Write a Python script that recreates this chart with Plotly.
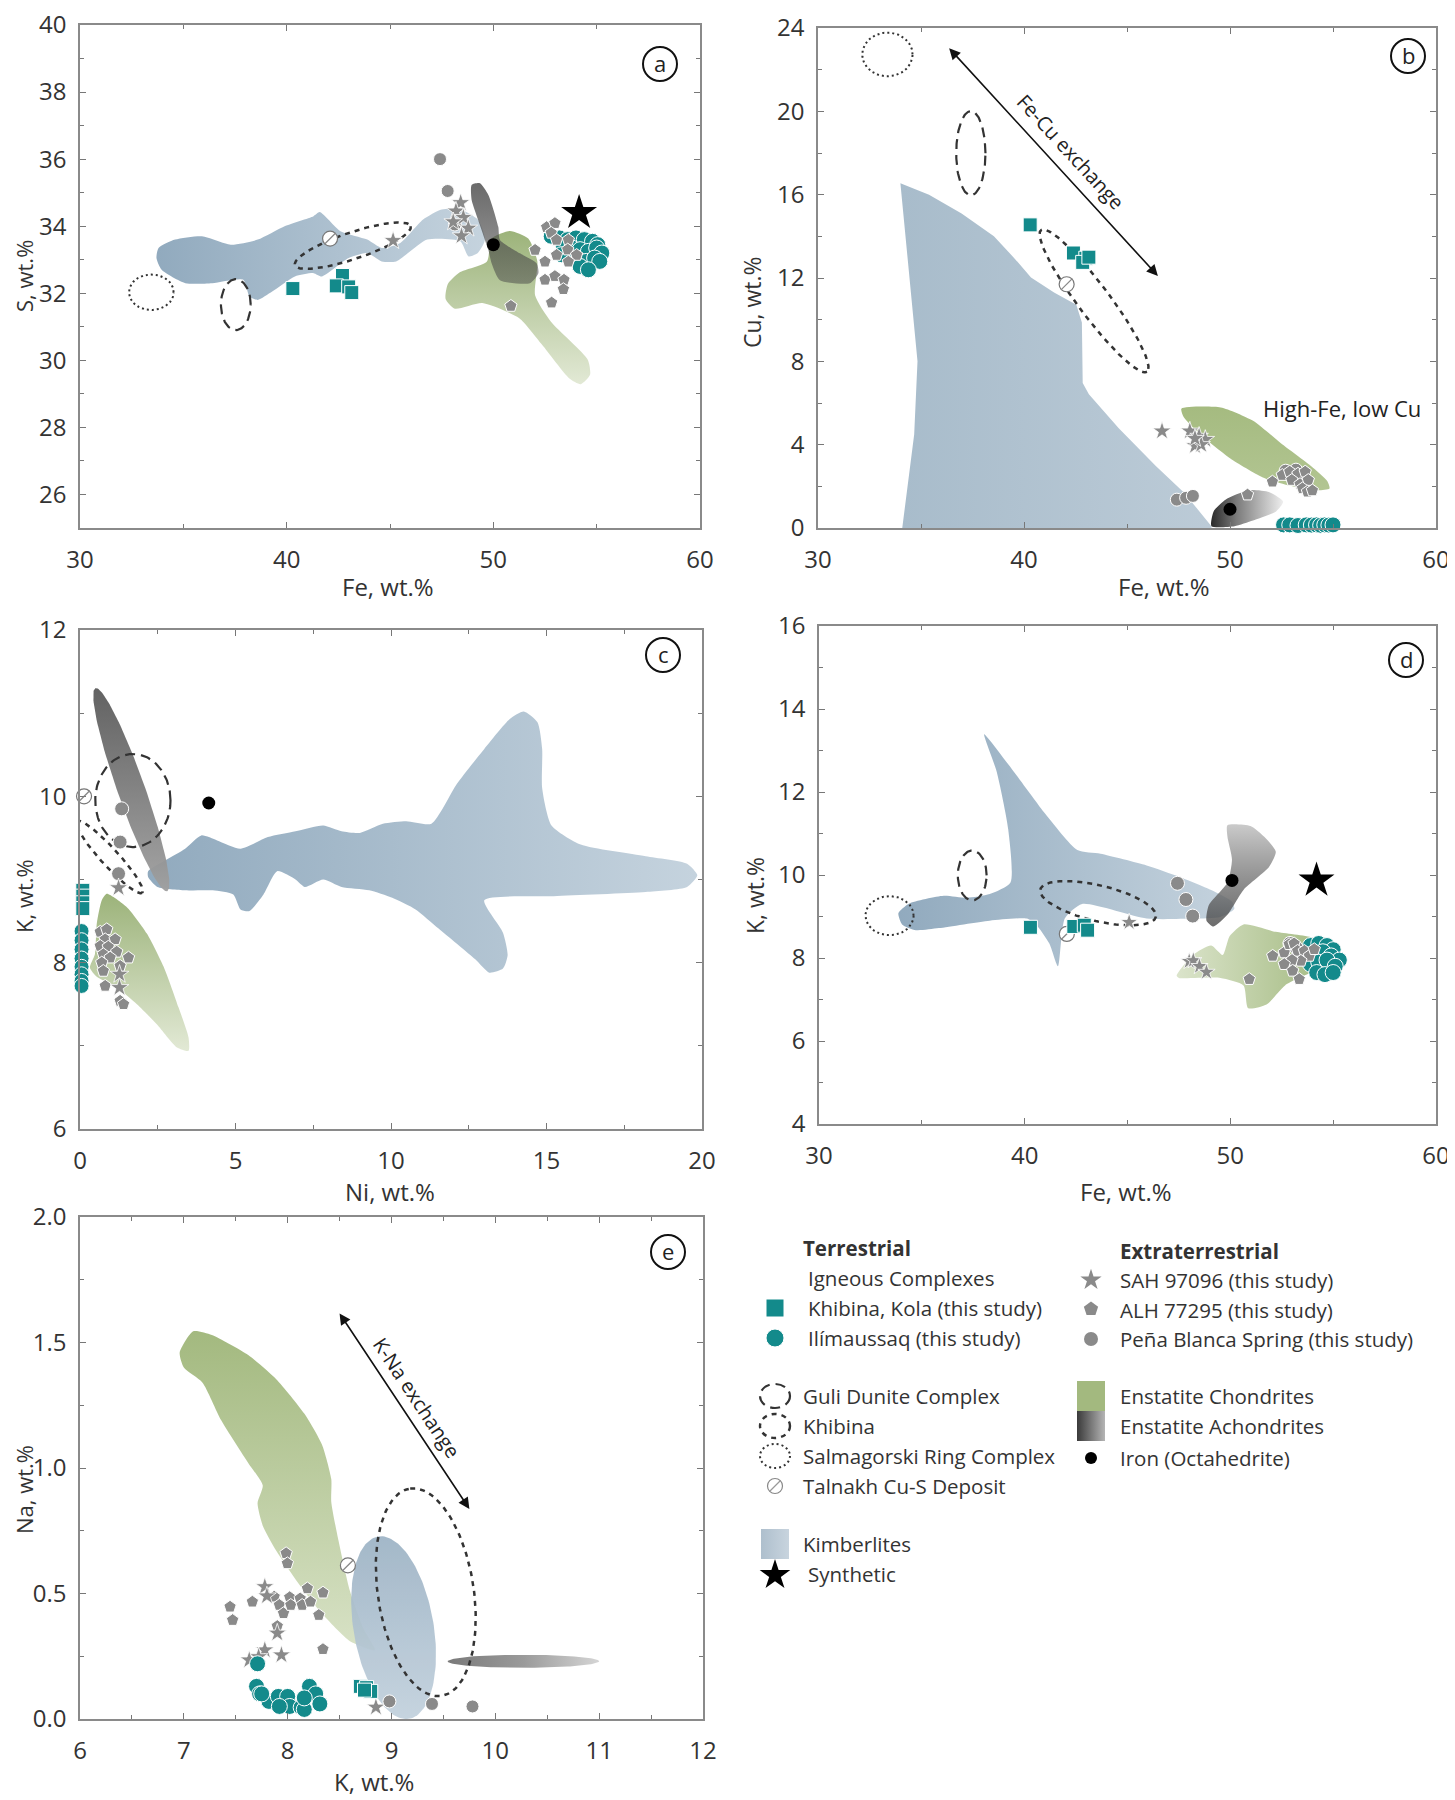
import numpy as np
import plotly.graph_objects as go

W, H = 1455, 1800
OFF = 8  # page body margin: figure starts 8 px right / down on the page
FONT = "Open Sans"
TEAL = "#138a8b"
GRAY = "#8a8a8a"

# ---------------- Panel a : S vs Fe ----------------
A_KIMB = [(33.8, 33.35), (34.6, 33.6), (35.9, 33.7), (37.3, 33.45), (38.6, 33.6), (39.9, 34.0), (41.3, 34.3),
          (41.6, 34.42), (42.6, 33.85), (43.9, 33.6), (44.6, 33.35), (45.5, 33.5), (46.6, 34.2), (47.5, 34.5),
          (48.4, 34.5), (49.25, 34.2), (49.6, 33.6), (49.25, 33.2), (48.8, 33.1), (48.4, 33.55), (46.8, 33.6),
          (45.3, 32.95), (44.6, 32.95), (43.9, 33.2), (43.0, 33.05), (41.7, 32.5), (41.3, 32.6), (40.4, 32.5),
          (39.3, 32.05), (38.6, 31.8), (38.2, 31.9), (37.9, 32.4), (36.4, 32.3), (35.1, 32.3), (33.95, 32.7),
          (33.7, 33.05)]
A_GREEN = [(47.8, 32.28), (47.69, 31.83), (48.14, 31.54), (49.47, 31.71), (51.24, 31.26), (52.35, 30.47),
           (53.68, 29.46), (54.23, 29.29), (54.68, 29.57), (54.57, 30.02), (52.79, 31.15), (52.02, 31.94),
           (52.13, 32.95), (51.69, 33.63), (50.8, 33.86), (49.91, 33.63), (49.69, 32.95), (48.36, 32.62)]
A_ACHON = [(48.95, 35.23), (49.35, 35.28), (49.76, 34.93), (50.24, 33.98), (50.32, 33.59), (51.29, 33.19),
           (52.1, 32.89), (52.18, 32.6), (51.77, 32.3), (50.32, 32.39), (49.92, 32.89), (49.76, 33.29),
           (49.27, 34.18), (48.95, 34.78)]
A_SALMA = dict(c=(33.45, 32.03), u=(1.08, 0.0), v=(0.0, 0.53))
A_GULI = dict(c=(37.54, 31.66), u=(0.72, 0.0), v=(0.0, 0.76))
A_KHIB_ELL = dict(c=(43.2, 33.42), u=(2.8, 0.58), v=(0.2, -0.38))
A_KHIB_FE = [40.3, 42.7, 42.4, 43.0, 43.15]
A_KHIB_S = [32.14, 32.53, 32.22, 32.19, 32.02]
A_ILI_FE = [52.8, 53.2, 53.6, 54.0, 54.4, 54.8, 55.05, 53.4, 53.8, 54.2, 54.6, 55.0, 55.25, 53.7, 54.1, 54.5,
            54.9, 55.15, 54.2, 54.6, 53.3]
A_ILI_S = [33.7, 33.65, 33.6, 33.65, 33.6, 33.55, 33.45, 33.4, 33.35, 33.3, 33.25, 33.35, 33.2, 33.05, 33.0,
           32.95, 33.05, 32.95, 32.8, 32.7, 33.15]
A_SAH_FE = [48.42, 48.19, 48.55, 48.06, 48.79, 48.46, 45.15]
A_SAH_S = [34.7, 34.45, 34.26, 34.13, 33.94, 33.71, 33.57]
A_ALH_FE = [52.58, 52.98, 52.8, 53.06, 53.63, 52.02, 52.5, 53.06, 53.6, 54.03, 53.63, 52.5, 52.98, 53.42, 53.39,
            52.82, 50.85]
A_ALH_S = [33.97, 34.09, 33.8, 33.59, 33.59, 33.29, 32.94, 33.14, 33.3, 33.14, 32.94, 32.4, 32.51, 32.4, 32.12,
           31.72, 31.62]
A_PBS_FE = [47.42, 47.79, 48.14]
A_PBS_S = [36.0, 35.05, 34.05]
A_IRON = (50.0, 33.45)
A_SYN = (54.15, 34.4)
A_TAL = (42.1, 33.63)

# ---------------- Panel b : Cu vs Fe ----------------
B_KIMB = [(34.0, 16.55), (35.39, 16.0), (36.97, 15.1), (38.54, 14.0), (39.55, 12.93), (40.34, 12.03),
          (41.46, 11.3), (42.54, 10.72), (42.81, 9.86), (42.85, 6.96), (43.15, 6.42), (44.6, 4.79), (46.4, 2.98),
          (47.75, 1.72), (49.1, 0.09), (49.1, 0.0), (34.09, 0.0), (34.67, 4.5), (34.83, 8.0), (34.38, 12.6)]
B_GREEN = [(47.64, 5.73), (49.55, 5.79), (51.12, 5.15), (52.47, 4.07), (53.93, 2.98), (54.72, 2.26), (54.83, 1.9),
           (54.27, 1.81), (52.7, 2.08), (51.57, 2.44), (50.0, 3.35), (48.43, 4.61), (47.75, 5.33)]
B_ACHON = [(49.1, 0.09), (49.21, 0.81), (49.78, 1.36), (50.9, 1.81), (51.91, 1.72), (52.58, 1.27), (52.25, 0.81),
           (51.12, 0.36), (50.22, 0.09)]
B_SALMA = dict(c=(33.37, 22.73), u=(1.22, 0.0), v=(0.0, 1.05))
B_GULI = dict(c=(37.42, 17.99), u=(0.71, 0.0), v=(0.0, 2.02))
B_KHIB_ELL = dict(c=(43.4, 10.9), u=(2.57, -3.4), v=(-0.62, -0.45))
B_KHIB_FE = [40.3, 42.4, 43.0, 42.85, 43.15]
B_KHIB_CU = [14.55, 13.2, 12.95, 12.75, 13.0]
B_ILI_FE = [52.6, 52.9, 53.3, 53.7, 53.95, 54.2, 54.4, 54.6, 54.8, 55.0]
B_ILI_CU = [0.15, 0.15, 0.12, 0.15, 0.14, 0.15, 0.13, 0.15, 0.14, 0.15]
B_SAH_FE = [46.7, 48.05, 48.5, 48.8, 48.3, 48.6, 48.3]
B_SAH_CU = [4.65, 4.65, 4.4, 4.25, 3.95, 4.0, 4.3]
B_ALH_FE = [52.06, 52.54, 52.9, 53.3, 53.65, 53.0, 53.4, 53.8, 53.52, 53.76, 54.0, 50.85]
B_ALH_CU = [2.22, 2.54, 2.7, 2.6, 2.7, 2.3, 2.1, 2.3, 1.9, 1.74, 1.8, 1.6]
B_PBS_FE = [47.42, 47.87, 48.2, 52.7, 53.2]
B_PBS_CU = [1.36, 1.45, 1.54, 2.75, 2.8]
B_IRON = (50.0, 0.9)
B_TAL = (42.07, 11.7)
B_ARROW = [(36.3, 23.1), (46.5, 12.1)]

# ---------------- Panel c : K vs Ni ----------------
C_KIMB = [(2.19, 9.1), (2.79, 9.24), (3.38, 9.37), (3.9, 9.53), (4.41, 9.47), (5.16, 9.37), (6.04, 9.51),
          (6.93, 9.58), (7.82, 9.65), (8.41, 9.58), (9.0, 9.56), (9.74, 9.67), (10.49, 9.7), (11.3, 9.67),
          (12.12, 10.15), (13.0, 10.57), (13.82, 10.93), (14.27, 11.02), (14.71, 10.89), (14.86, 10.57),
          (14.86, 10.1), (15.16, 9.65), (16.1, 9.42), (18.19, 9.28), (19.52, 9.19), (19.85, 9.05), (19.52, 8.91),
          (18.19, 8.85), (15.23, 8.8), (13.0, 8.75), (13.6, 8.36), (13.75, 8.09), (13.6, 7.93), (13.16, 7.88),
          (12.71, 8.04), (11.53, 8.41), (10.79, 8.64), (10.04, 8.78), (9.3, 8.87), (8.41, 8.91), (7.82, 9.0),
          (7.23, 8.91), (6.93, 9.0), (6.34, 9.1), (5.9, 8.82), (5.45, 8.62), (5.16, 8.64), (4.93, 8.82),
          (4.27, 8.87), (3.38, 8.87), (2.49, 8.91), (2.19, 9.03)]
C_GREEN = [(0.86, 8.83), (1.5, 8.67), (2.15, 8.35), (2.69, 7.95), (3.17, 7.46), (3.49, 7.1), (3.49, 6.94),
           (3.12, 6.98), (2.47, 7.26), (1.83, 7.5), (1.18, 7.7), (0.54, 7.83), (0.32, 7.94), (0.48, 8.1),
           (0.54, 8.47), (0.7, 8.75)]
C_ACHON = dict(c=(1.65, 10.08), u=(1.15, -1.22), v=(-0.42, -0.05))
C_GULI = dict(c=(1.7, 9.95), u=(1.21, 0.0), v=(0.0, 0.56))
C_KHIB_ELL = dict(c=(0.95, 9.27), u=(1.05, -0.43), v=(-0.21, -0.07))
C_KHIB_NI = [0.09, 0.09, 0.09, 0.09]
C_KHIB_K = [8.87, 8.8, 8.72, 8.65]
C_ILI_NI = [0.05, 0.05, 0.05, 0.05, 0.05, 0.05, 0.05, 0.05]
C_ILI_K = [8.38, 8.27, 8.16, 8.05, 7.95, 7.86, 7.78, 7.72]
C_ALH_NI = [0.65, 0.86, 0.81, 0.65, 1.13, 0.91, 1.18, 0.75, 0.97, 1.56, 0.7, 1.29, 0.75, 0.81, 1.29, 1.4]
C_ALH_K = [8.37, 8.4, 8.28, 8.2, 8.28, 8.19, 8.13, 8.1, 8.06, 8.06, 8.0, 7.96, 7.9, 7.72, 7.54, 7.5]
C_SAH_NI = [1.24, 1.27, 1.27]
C_SAH_K = [8.9, 7.86, 7.7]
C_PBS_NI = [1.34, 1.29, 1.24]
C_PBS_K = [9.85, 9.45, 9.07]
C_IRON = (4.14, 9.92)
C_TAL = (0.13, 10.0)

# ---------------- Panel d : K vs Fe ----------------
D_KIMB = [(38.03, 13.39), (39.2, 12.67), (40.99, 11.48), (42.56, 10.6), (43.69, 10.51), (45.93, 10.23),
          (47.5, 9.96), (49.07, 9.64), (50.08, 9.36), (50.19, 9.18), (49.52, 8.99), (48.17, 8.95), (45.93, 8.95),
          (42.79, 9.3), (41.95, 8.95), (41.62, 7.8), (41.2, 8.35), (40.55, 8.81), (40.1, 8.95), (38.3, 8.9),
          (35.83, 8.72), (34.71, 8.67), (34.04, 8.81), (33.86, 9.08), (34.37, 9.31), (36.06, 9.5), (37.18, 9.45),
          (38.3, 9.54), (39.31, 9.82), (39.2, 11.1), (38.64, 12.49)]
D_GREEN = [(47.39, 7.57), (48.17, 8.07), (49.07, 8.3), (49.63, 8.07), (49.97, 8.53), (50.64, 8.81), (52.21, 8.63),
           (54.0, 8.49), (54.9, 8.26), (54.9, 7.8), (54.0, 7.66), (52.66, 7.34), (51.76, 6.88), (50.87, 6.79),
           (50.64, 7.34), (49.52, 7.52), (47.5, 7.52)]
D_ACHON = [(49.86, 11.2), (50.98, 11.18), (51.65, 10.92), (52.21, 10.56), (51.88, 10.19), (50.64, 9.64),
           (49.86, 9.04), (49.18, 8.76), (48.84, 8.9), (48.95, 9.27), (49.86, 9.82), (50.08, 10.37), (49.86, 10.92)]
D_SALMA = dict(c=(33.43, 9.02), u=(1.17, 0.0), v=(0.0, 0.47))
D_GULI = dict(c=(37.45, 9.99), u=(0.7, 0.0), v=(0.0, 0.6))
D_KHIB_ELL = dict(c=(43.57, 9.32), u=(2.81, -0.33), v=(-0.2, -0.42))
D_KHIB_FE = [40.28, 42.39, 42.9, 43.06]
D_KHIB_K = [8.74, 8.76, 8.79, 8.67]
D_ILI_FE = [53.9, 54.3, 54.7, 55.0, 53.7, 54.1, 54.5, 54.9, 55.3, 53.9, 54.3, 54.7, 55.1, 54.2, 54.6, 55.0]
D_ILI_K = [8.3, 8.35, 8.3, 8.2, 8.05, 8.1, 8.15, 8.05, 7.95, 7.85, 7.9, 7.95, 7.8, 7.65, 7.6, 7.65]
D_ALH_FE = [52.06, 52.62, 52.86, 53.1, 53.27, 53.6, 53.84, 53.43, 53.0, 52.62, 53.03, 53.35, 50.92, 54.08]
D_ALH_K = [8.05, 8.13, 8.33, 8.35, 8.17, 8.17, 8.05, 7.93, 7.95, 7.85, 7.69, 7.49, 7.49, 8.21]
D_SAH_FE = [45.08, 48.0, 48.2, 48.5, 48.84]
D_SAH_K = [8.86, 7.92, 7.94, 7.8, 7.66]
D_PBS_FE = [47.43, 47.84, 48.17, 52.9, 53.2]
D_PBS_K = [9.8, 9.41, 9.01, 8.35, 8.25]
D_IRON = (50.08, 9.87)
D_SYN = (54.19, 9.87)
D_TAL = (42.05, 8.58)

# ---------------- Panel e : Na vs K ----------------
E_GREEN = [(6.96, 1.46), (7.09, 1.545), (7.27, 1.53), (7.62, 1.45), (7.89, 1.354), (8.16, 1.217), (8.33, 1.094),
           (8.42, 0.956), (8.42, 0.865), (8.49, 0.71), (8.6, 0.51), (8.73, 0.36), (8.84, 0.275), (8.6, 0.31),
           (8.33, 0.42), (8.07, 0.56), (7.89, 0.67), (7.76, 0.77), (7.71, 0.86), (7.76, 0.93), (7.62, 1.02),
           (7.36, 1.19), (7.18, 1.34), (7.0, 1.4)]
E_KIMB = dict(c=(9.02, 0.364), u=(-0.15, 0.363), v=(0.38, 0.027))
E_ACHON = dict(c=(10.27, 0.23), u=(0.73, 0.0), v=(0.0, 0.026))
E_KHIB_ELL = dict(c=(9.33, 0.505), u=(-0.15, 0.413), v=(0.457, 0.028))
E_KHIB_K = [8.7, 8.76, 8.8, 8.74]
E_KHIB_NA = [0.13, 0.125, 0.11, 0.115]
E_ILI_K = [7.71, 7.7, 7.73, 7.82, 7.91, 8.0, 8.02, 8.13, 8.16, 8.21, 8.27, 8.31, 8.16, 7.92, 7.75]
E_ILI_NA = [0.22, 0.13, 0.1, 0.07, 0.09, 0.09, 0.05, 0.046, 0.038, 0.13, 0.1, 0.06, 0.084, 0.05, 0.1]
E_ALH_K = [7.985, 7.997, 7.445, 7.47, 7.66, 7.87, 7.92, 7.96, 8.02, 8.03, 8.12, 8.14, 8.19, 8.22, 8.34, 8.30,
           7.90, 8.34]
E_ALH_NA = [0.66, 0.62, 0.447, 0.394, 0.467, 0.487, 0.454, 0.421, 0.485, 0.454, 0.48, 0.454, 0.52, 0.467, 0.503,
            0.414, 0.37, 0.278]
E_SAH_K = [7.78, 7.8, 7.9, 7.78, 7.72, 7.63, 7.94, 8.85]
E_SAH_NA = [0.527, 0.49, 0.342, 0.275, 0.248, 0.235, 0.255, 0.047]
E_PBS_K = [8.98, 9.39, 9.78]
E_PBS_NA = [0.07, 0.06, 0.05]
E_TAL = (8.58, 0.612)
E_ARROW = [(8.49, 1.622), (9.75, 0.837)]

# ---------------- layout boxes (page pixels) ----------------
BOX = {
    1: dict(x=(80, 700), y=(25, 528), xr=[30, 60], yr=[25, 40], xd=10, xm=5, yd=2, ym=1, yfmt=None),
    2: dict(x=(818, 1436), y=(28, 528), xr=[30, 60], yr=[0, 24], xd=10, xm=5, yd=4, ym=2, yfmt=None),
    3: dict(x=(80, 702), y=(630, 1129), xr=[0, 20], yr=[6, 12], xd=5, xm=2.5, yd=2, ym=1, yfmt=None),
    4: dict(x=(819, 1436), y=(626, 1124), xr=[30, 60], yr=[4, 16], xd=10, xm=5, yd=2, ym=1, yfmt=None),
    5: dict(x=(80, 703), y=(1217, 1719), xr=[6, 12], yr=[0, 2], xd=1, xm=0.5, yd=0.5, ym=0.25, yfmt=".1f"),
}

fig = go.Figure()


def ax_ref(i):
    return ("x" if i == 1 else f"x{i}"), ("y" if i == 1 else f"y{i}")


def ellipse(p, n=160):
    t = np.linspace(0, 2 * np.pi, n)
    cx, cy = p["c"]
    x = cx + p["u"][0] * np.cos(t) + p["v"][0] * np.sin(t)
    y = cy + p["u"][1] * np.cos(t) + p["v"][1] * np.sin(t)
    return x, y


def region(i, pts, grad, spline=True, opacity=1.0):
    xa, ya = ax_ref(i)
    if isinstance(pts, dict):
        x, y = ellipse(pts)
        shape = "linear"
    else:
        x = [p[0] for p in pts] + [pts[0][0]]
        y = [p[1] for p in pts] + [pts[0][1]]
        shape = "spline" if spline else "linear"
    fig.add_trace(go.Scatter(x=x, y=y, xaxis=xa, yaxis=ya, mode="lines", fill="toself",
                             line=dict(width=0, color="rgba(0,0,0,0)", shape=shape, smoothing=0.6),
                             fillgradient=grad, opacity=opacity, hoverinfo="skip", showlegend=False))


def outline(i, p, dash, width=2.2):
    xa, ya = ax_ref(i)
    x, y = ellipse(p)
    fig.add_trace(go.Scatter(x=x, y=y, xaxis=xa, yaxis=ya, mode="lines",
                             line=dict(color="#333333", width=width, dash=dash),
                             hoverinfo="skip", showlegend=False))


def pts(i, x, y, symbol, color, size, lc="white", lw=1.0):
    xa, ya = ax_ref(i)
    fig.add_trace(go.Scatter(x=x, y=y, xaxis=xa, yaxis=ya, mode="markers", cliponaxis=False,
                             marker=dict(symbol=symbol, color=color, size=size, line=dict(color=lc, width=lw)),
                             showlegend=False))


def talnakh(i, xy, size=15):
    pts(i, [xy[0]], [xy[1]], "circle", "white", size, lc="#777777", lw=1.2)
    pts(i, [xy[0]], [xy[1]], "line-ne", "#888888", size * 0.75, lc="#888888", lw=1.3)


GULI_DASH = "10px,6px"
KHIB_DASH = "5px,5px"
SALMA_DASH = "2px,3px"

KIMB_H = dict(type="horizontal", colorscale=[[0, "#91aabe"], [1, "#c5d3de"]])
GREEN_V = dict(type="vertical", colorscale=[[0, "#e2e9d5"], [1, "#9cb37a"]])

# ---- panel a
region(1, A_KIMB, KIMB_H)
region(1, A_GREEN, GREEN_V)
region(1, A_ACHON, dict(type="vertical", colorscale=[[0, "rgba(70,70,70,0.5)"], [1, "rgba(80,80,80,0.85)"]]))
outline(1, A_SALMA, SALMA_DASH, 2)
outline(1, A_GULI, GULI_DASH)
outline(1, A_KHIB_ELL, KHIB_DASH, 2.5)
talnakh(1, A_TAL)
pts(1, A_PBS_FE, A_PBS_S, "circle", GRAY, 13)
pts(1, A_SAH_FE, A_SAH_S, "star", GRAY, 14, lw=0.8)
pts(1, A_ILI_FE, A_ILI_S, "circle", TEAL, 16)
pts(1, A_ALH_FE, A_ALH_S, "pentagon", GRAY, 13)
pts(1, A_KHIB_FE, A_KHIB_S, "square", TEAL, 14)
pts(1, [A_IRON[0]], [A_IRON[1]], "circle", "black", 13, lw=0)
pts(1, [A_SYN[0]], [A_SYN[1]], "star", "black", 27, lw=0)

# ---- panel b
region(2, B_KIMB, dict(type="horizontal", colorscale=[[0, "#a8bccb"], [1, "#bccbd7"]]), spline=False)
region(2, B_GREEN, dict(type="vertical", colorscale=[[0, "#b2c592"], [1, "#a5bb80"]]))
region(2, B_ACHON, dict(type="horizontal", colorscale=[[0, "#2a2a2a"], [0.35, "#7a7a7a"], [1, "#eeeeee"]]))
outline(2, B_SALMA, SALMA_DASH, 2)
outline(2, B_GULI, GULI_DASH)
outline(2, B_KHIB_ELL, KHIB_DASH, 2.5)
talnakh(2, B_TAL)
pts(2, B_SAH_FE, B_SAH_CU, "star", GRAY, 14, lw=0.8)
pts(2, B_PBS_FE, B_PBS_CU, "circle", GRAY, 13)
pts(2, B_ALH_FE, B_ALH_CU, "pentagon", GRAY, 13)
pts(2, B_ILI_FE, B_ILI_CU, "circle", TEAL, 16)
pts(2, B_KHIB_FE, B_KHIB_CU, "square", TEAL, 14)
pts(2, [B_IRON[0]], [B_IRON[1]], "circle", "black", 13, lw=0)

# ---- panel c
region(3, C_KIMB, KIMB_H)
region(3, C_GREEN, GREEN_V)
region(3, C_ACHON, dict(type="vertical", colorscale=[[0, "rgba(160,160,160,0.95)"], [1, "rgba(90,90,90,0.95)"]]))
outline(3, C_GULI, GULI_DASH)
outline(3, C_KHIB_ELL, KHIB_DASH, 2.5)
talnakh(3, C_TAL)
pts(3, C_PBS_NI, C_PBS_K, "circle", GRAY, 14)
pts(3, C_ALH_NI, C_ALH_K, "pentagon", GRAY, 13)
pts(3, C_SAH_NI, C_SAH_K, "star", GRAY, 14, lw=0.8)
pts(3, C_KHIB_NI, C_KHIB_K, "square", TEAL, 14)
pts(3, C_ILI_NI, C_ILI_K, "circle", TEAL, 15)
pts(3, [C_IRON[0]], [C_IRON[1]], "circle", "black", 13, lw=0)

# ---- panel d
region(4, D_KIMB, KIMB_H)
region(4, D_GREEN, dict(type="horizontal", colorscale=[[0, "#dbe4cb"], [1, "#a2b97f"]]))
region(4, D_ACHON, dict(type="vertical", colorscale=[[0, "rgba(60,60,60,0.75)"], [1, "rgba(200,200,200,0.95)"]]))
outline(4, D_SALMA, SALMA_DASH, 2)
outline(4, D_GULI, GULI_DASH)
outline(4, D_KHIB_ELL, KHIB_DASH, 2.5)
talnakh(4, D_TAL)
pts(4, D_PBS_FE, D_PBS_K, "circle", GRAY, 14)
pts(4, D_SAH_FE, D_SAH_K, "star", GRAY, 13, lw=0.8)
pts(4, D_ILI_FE, D_ILI_K, "circle", TEAL, 16)
pts(4, D_ALH_FE, D_ALH_K, "pentagon", GRAY, 13)
pts(4, D_KHIB_FE, D_KHIB_K, "square", TEAL, 14)
pts(4, [D_IRON[0]], [D_IRON[1]], "circle", "black", 13, lw=0)
pts(4, [D_SYN[0]], [D_SYN[1]], "star", "black", 27, lw=0)

# ---- panel e
region(5, E_GREEN, dict(type="vertical", colorscale=[[0, "#d8e2c6"], [1, "#a3b97f"]]))
region(5, E_KIMB, dict(type="vertical", colorscale=[[0, "#c2d1dd"], [1, "#9db3c5"]]), opacity=0.93)
region(5, E_ACHON, dict(type="horizontal", colorscale=[[0, "#7a7a7a"], [0.5, "#9a9a9a"], [1, "#d5d5d5"]]))
outline(5, E_KHIB_ELL, KHIB_DASH, 2.5)
talnakh(5, E_TAL)
pts(5, E_ALH_K, E_ALH_NA, "pentagon", GRAY, 13)
pts(5, E_SAH_K, E_SAH_NA, "star", GRAY, 14, lw=0.8)
pts(5, E_PBS_K, E_PBS_NA, "circle", GRAY, 13)
pts(5, E_ILI_K, E_ILI_NA, "circle", TEAL, 16)
pts(5, E_KHIB_K, E_KHIB_NA, "square", TEAL, 14)

# ---------------- axes ----------------
layout = dict(width=W, height=H, margin=dict(l=0, r=0, t=0, b=0, pad=0, autoexpand=False),
              paper_bgcolor="white", plot_bgcolor="rgba(0,0,0,0)", showlegend=False,
              font=dict(family=FONT, color="#333333"))


def dom_x(a, b):
    return [(a - OFF) / W, (b - OFF) / W]


def dom_y(top, bottom):
    return [1 - (bottom - OFF) / H, 1 - (top - OFF) / H]


for i, b in BOX.items():
    xk = "xaxis" if i == 1 else f"xaxis{i}"
    yk = "yaxis" if i == 1 else f"yaxis{i}"
    xa, ya = ax_ref(i)
    common = dict(ticks="inside", ticklen=6, tickwidth=1.2, tickcolor="#777777", showline=True,
                  linecolor="#8a8a8a", linewidth=1.5, mirror="allticks", showgrid=False, zeroline=False,
                  tickfont=dict(size=24, color="#333333", family=FONT), fixedrange=True, automargin=False,
                  ticklabeloverflow="allow")
    layout[xk] = dict(common, range=b["xr"], dtick=b["xd"], domain=dom_x(*b["x"]), anchor=ya,
                      ticklabelstandoff=9,
                      minor=dict(dtick=b["xm"], ticks="inside", ticklen=4, tickcolor="#777777", showgrid=False))
    yd = dict(common, range=b["yr"], dtick=b["yd"], domain=dom_y(*b["y"]), anchor=xa,
              ticklabelstandoff=7,
              minor=dict(dtick=b["ym"], ticks="inside", ticklen=4, tickcolor="#777777", showgrid=False))
    if b["yfmt"]:
        yd["tickformat"] = b["yfmt"]
    layout[yk] = yd

# overlay axis expressed in page pixels, for decorations / legend
layout["xaxis6"] = dict(domain=[0, 1], range=[OFF, W + OFF], visible=False, fixedrange=True, anchor="y6",
                        automargin=False)
layout["yaxis6"] = dict(domain=[0, 1], range=[H + OFF, OFF], visible=False, fixedrange=True, anchor="x6",
                        automargin=False)
fig.update_layout(**layout)

ann = []
shapes = []

# axis titles (page pixel positions)
TITLES = [("Fe, wt.%", 388, 586, 0, 24), ("S, wt.%", 24, 276, -90, 22),
          ("Fe, wt.%", 1164, 586, 0, 24), ("Cu, wt.%", 752, 302, -90, 23),
          ("Ni, wt.%", 390, 1191, 0, 24), ("K, wt.%", 24, 896, -90, 22),
          ("Fe, wt.%", 1126, 1191, 0, 24), ("K, wt.%", 755, 896, -90, 23),
          ("K, wt.%", 374, 1781, 0, 24), ("Na, wt.%", 24, 1490, -90, 22)]
for t, x, y, a, fs in TITLES:
    ann.append(dict(text=t, x=x, y=y, xref="x6", yref="y6", showarrow=False, textangle=a,
                    font=dict(size=fs, color="#333333", family=FONT)))

# circled panel letters
LETTERS = [("a", 660, 64), ("b", 1408, 56), ("c", 663, 655), ("d", 1406, 660), ("e", 668, 1252)]
for t, x, y in LETTERS:
    shapes.append(dict(type="circle", xref="x6", yref="y6", x0=x - 17, x1=x + 17, y0=y - 17, y1=y + 17,
                       line=dict(color="#111111", width=2)))
    ann.append(dict(text=t, x=x, y=y - 1, xref="x6", yref="y6", showarrow=False,
                    font=dict(size=22, color="#222222", family=FONT)))

# arrows & rotated labels
ann.append(dict(x=B_ARROW[1][0], y=B_ARROW[1][1], ax=B_ARROW[0][0], ay=B_ARROW[0][1], xref="x2", yref="y2",
                axref="x2", ayref="y2", text="", showarrow=True, arrowhead=2, arrowside="end+start",
                arrowsize=1.4, arrowwidth=1.6, arrowcolor="#111111", standoff=0, startstandoff=0))
ann.append(dict(text="Fe-Cu exchange", x=42.25, y=18.05, xref="x2", yref="y2", showarrow=False, textangle=47.5,
                font=dict(size=20, color="#222222", family=FONT)))
ann.append(dict(text="High-Fe, low Cu", x=55.45, y=5.76, xref="x2", yref="y2", showarrow=False,
                font=dict(size=22, color="#222222", family=FONT)))
ann.append(dict(x=E_ARROW[1][0], y=E_ARROW[1][1], ax=E_ARROW[0][0], ay=E_ARROW[0][1], xref="x5", yref="y5",
                axref="x5", ayref="y5", text="", showarrow=True, arrowhead=2, arrowside="end+start",
                arrowsize=1.4, arrowwidth=1.6, arrowcolor="#111111", standoff=0, startstandoff=0))
ann.append(dict(text="K-Na exchange", x=9.24, y=1.28, xref="x5", yref="y5", showarrow=False, textangle=56.4,
                font=dict(size=20, color="#222222", family=FONT)))

# ---------------- legend (page pixel coordinates) ----------------
LEG_FONT = dict(size=20.5, color="#333333", family=FONT)


def leg_text(t, x, y, bold=False):
    ann.append(dict(text=f"<b>{t}</b>" if bold else t, x=x, y=y, xref="x6", yref="y6", xanchor="left",
                    showarrow=False, font=LEG_FONT))


def leg_marker(x, y, symbol, color, size, lc="white", lw=1.0):
    fig.add_trace(go.Scatter(x=[x], y=[y], xaxis="x6", yaxis="y6", mode="markers", cliponaxis=False,
                             marker=dict(symbol=symbol, color=color, size=size, line=dict(color=lc, width=lw)),
                             hoverinfo="skip", showlegend=False))


def leg_swatch(x, y, grad):
    fig.add_trace(go.Scatter(x=[x - 14, x + 14, x + 14, x - 14, x - 14], y=[y - 15, y - 15, y + 15, y + 15, y - 15],
                             xaxis="x6", yaxis="y6", mode="lines", fill="toself", line=dict(width=0),
                             fillgradient=grad, hoverinfo="skip", showlegend=False))


def leg_ring(x, y, dash, width=2.2):
    shapes.append(dict(type="circle", xref="x6", yref="y6", x0=x - 15, x1=x + 15, y0=y - 12, y1=y + 12,
                       line=dict(color="#333333", width=width, dash=dash)))


C1M, C1T, C1T2 = 775, 806, 801
C2M, C2T = 1091, 1118
leg_text("Terrestrial", 801, 1248, bold=True)
leg_text("Igneous Complexes", C1T, 1278)
leg_marker(C1M, 1308, "square", TEAL, 18)
leg_text("Khibina, Kola (this study)", C1T, 1308)
leg_marker(C1M, 1338, "circle", TEAL, 18)
leg_text("Ilímaussaq (this study)", C1T, 1338)
leg_ring(C1M, 1396, GULI_DASH)
leg_text("Guli Dunite Complex", C1T2, 1396)
leg_ring(C1M, 1426, KHIB_DASH, 2.4)
leg_text("Khibina", C1T2, 1426)
leg_ring(C1M, 1456, SALMA_DASH, 2)
leg_text("Salmagorski Ring Complex", C1T2, 1456)
leg_marker(C1M, 1486, "circle", "white", 15, lc="#888888", lw=1.2)
leg_marker(C1M, 1486, "line-ne", "#999999", 11, lc="#999999", lw=1.3)
leg_text("Talnakh Cu-S Deposit", C1T2, 1486)
leg_swatch(C1M, 1544, dict(type="horizontal", colorscale=[[0, "#aebfcd"], [1, "#c8d4de"]]))
leg_text("Kimberlites", C1T2, 1544)
leg_marker(C1M, 1575, "star", "black", 23, lw=0)
leg_text("Synthetic", C1T, 1574)

leg_text("Extraterrestrial", C2T, 1251, bold=True)
leg_marker(C2M, 1280, "star", GRAY, 16, lw=0)
leg_text("SAH 97096 (this study)", C2T, 1280)
leg_marker(C2M, 1309, "pentagon", GRAY, 15, lw=0)
leg_text("ALH 77295 (this study)", C2T, 1310)
leg_marker(C2M, 1339, "circle", GRAY, 14, lw=0)
leg_text("Peña Blanca Spring (this study)", C2T, 1339)
leg_swatch(C2M, 1396, dict(type="horizontal", colorscale=[[0, "#a3b97f"], [1, "#a3b97f"]]))
leg_text("Enstatite Chondrites", C2T, 1396)
leg_swatch(C2M, 1426, dict(type="horizontal", colorscale=[[0, "#3a3a3a"], [1, "#b5b5b5"]]))
leg_text("Enstatite Achondrites", C2T, 1426)
leg_marker(C2M, 1458, "circle", "black", 12, lw=0)
leg_text("Iron (Octahedrite)", C2T, 1458)

fig.update_layout(annotations=ann, shapes=shapes)
fig.write_html("out.html")
